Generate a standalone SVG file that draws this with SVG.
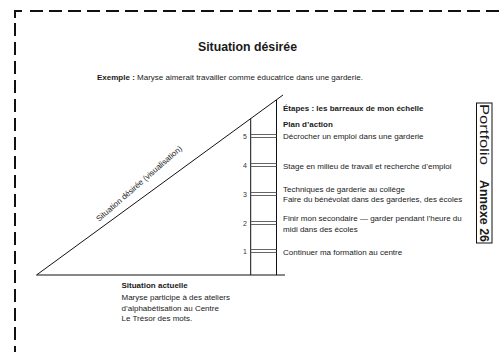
<svg xmlns="http://www.w3.org/2000/svg" width="504" height="352" viewBox="0 0 504 352">
<style>
text{font-family:"Liberation Sans",Arial,Helvetica,sans-serif;fill:#1a1a1a}
.t{font-size:8px}
.b{font-weight:bold}
.n{font-size:7px;fill:#333;text-anchor:end}
.dash{fill:none;stroke:#111;stroke-width:2;stroke-dasharray:13 6}
.ln{fill:none;stroke:#111;stroke-width:1}
.rung{stroke:#555;stroke-width:0.9}
</style>
<rect width="504" height="352" fill="#fff"/>
<g id="border">
<path d="M15,18 V11 H22" fill="none" stroke="#111" stroke-width="2"/>
<path class="dash" d="M30,11 H504"/>
<path class="dash" d="M15,23 V352"/>
</g>
<g id="title">
<text x="247.5" y="51" class="b" font-size="12.3" text-anchor="middle" fill="#000">Situation désirée</text>
</g>
<g id="example">
<text x="97" y="80" class="t" font-size="8.3"><tspan class="b">Exemple :</tspan> Maryse aimerait travailler comme éducatrice dans une garderie.</text>
</g>
<g id="triangle">
<path class="ln" d="M36.5,275 L283,95"/>
<path class="ln" d="M36.5,275 H285" stroke-width="1.2"/>
<text class="t" font-size="8.2" transform="translate(99,222) rotate(-41)">Situation désirée (visualisation)</text>
</g>
<g id="ladder">
<path class="ln" d="M250.7,118.5 V275 M276.5,100 V275"/>
<g class="rung">
<path d="M250.7,134.5 H276.5 M250.7,137.5 H276.5"/>
<path d="M250.7,163.5 H276.5 M250.7,166.5 H276.5"/>
<path d="M250.7,192.5 H276.5 M250.7,195.5 H276.5"/>
<path d="M250.7,221.5 H276.5 M250.7,224.5 H276.5"/>
<path d="M250.7,249.5 H276.5 M250.7,252.5 H276.5"/>
</g>
<text class="n" x="247" y="138.5">5</text>
<text class="n" x="247" y="167.5">4</text>
<text class="n" x="247" y="196.5">3</text>
<text class="n" x="247" y="225.5">2</text>
<text class="n" x="247" y="253.5">1</text>
</g>
<g id="steps">
<text x="283" y="111" class="t b">Étapes : les barreaux de mon échelle</text>
<text x="283" y="126.5" class="t b" font-size="7.5">Plan d’action</text>
<text x="283" y="139" class="t">Décrocher un emploi dans une garderie</text>
<text x="283" y="169" class="t">Stage en milieu de travail et recherche d’emploi</text>
<text x="283" y="191.5" class="t">Techniques de garderie au collège</text>
<text x="283" y="201.5" class="t">Faire du bénévolat dans des garderies, des écoles</text>
<text x="283" y="221" class="t">Finir mon secondaire — garder pendant l’heure du</text>
<text x="283" y="231.5" class="t">midi dans des écoles</text>
<text x="283" y="255" class="t">Continuer ma formation au centre</text>
</g>
<g id="actual">
<text x="121.5" y="288" class="t b">Situation actuelle</text>
<text x="121.5" y="300" class="t">Maryse participe à des ateliers</text>
<text x="121.5" y="310.5" class="t">d’alphabétisation au Centre</text>
<text x="121.5" y="321" class="t">Le Trésor des mots.</text>
</g>
<g id="portfolio">
<rect x="476.5" y="103" width="15.5" height="140" fill="none" stroke="#111" stroke-width="1"/>
<text transform="translate(479.5,104) rotate(90)" font-size="13.5" textLength="61" lengthAdjust="spacingAndGlyphs" fill="#000">Portfolio</text>
<text transform="translate(479.5,180) rotate(90)" font-size="13.5" class="b" textLength="62" lengthAdjust="spacingAndGlyphs" fill="#000">Annexe 26</text>
</g>
</svg>
